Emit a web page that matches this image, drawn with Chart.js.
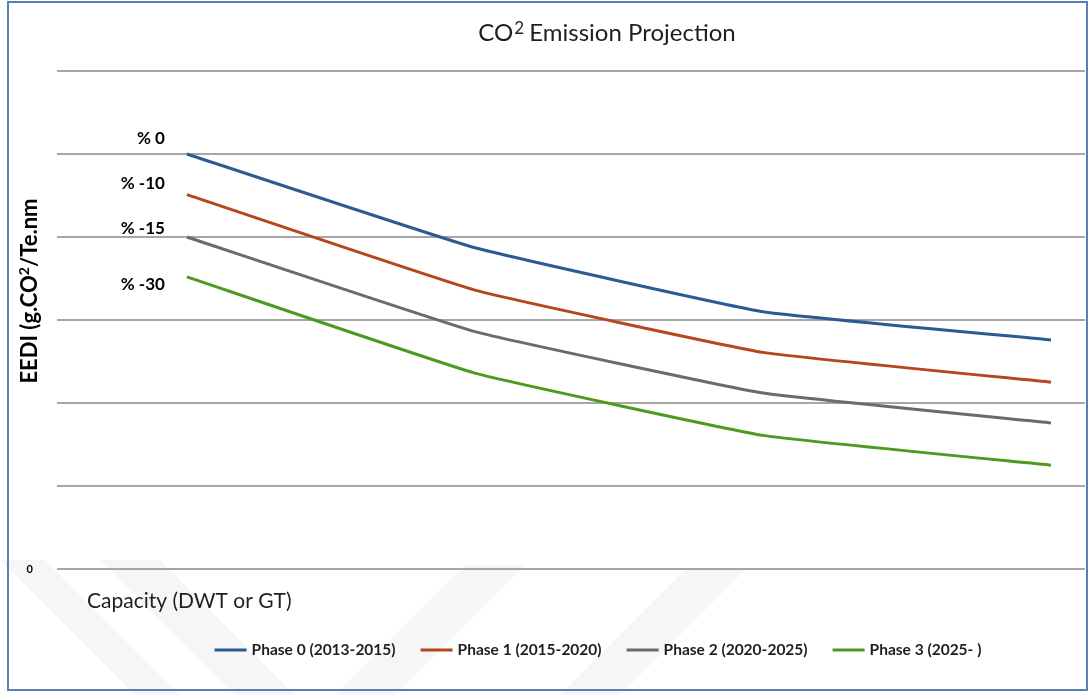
<!DOCTYPE html>
<html>
<head>
<meta charset="utf-8">
<script src="https://cdn.jsdelivr.net/npm/chart.js@4/dist/chart.umd.min.js"></script>
<style>
  html, body { margin: 0; padding: 0; background: #fff; }
  #wrap { position: relative; width: 1091px; height: 695px; }
  #frame { position: absolute; left: 7px; top: 1px; width: 1077px; height: 686px;
           border: 2px solid #5a7fb2; pointer-events: none; }
</style>
</head>
<body>
<div id="wrap">
  <canvas id="myChart" width="1091" height="695"></canvas>
  <div id="frame"></div>
</div>
<script>
// capacity steps along the x axis (no labels shown on the original)
var capacity = [1, 2, 3, 4];
var seriesNames = ['Phase 0 (2013-2015)', 'Phase 1 (2015-2020)', 'Phase 2 (2020-2025)', 'Phase 3 (2025- )'];
var phase0 = [5.00, 3.87, 3.10, 2.76];
var phase1 = [4.51, 3.36, 2.61, 2.25];
var phase2 = [4.00, 2.86, 2.12, 1.76];
var phase3 = [3.52, 2.36, 1.61, 1.25];
var startLabels = ['% 0', '% -10', '% -15', '% -30'];
var yTickLabels = ['0'];
var colors = ['#2b5c90', '#b6461c', '#6b6b6b', '#4e9a21'];

var FONT = 'Lato, "Open Sans", sans-serif';

function pts(vals) {
    return vals.map(function (v, i) { return { x: capacity[i], y: v }; });
}

var textPlugin = {
    id: 'texts',
    beforeDraw: function (chart) {
        // faint watermark bands
        var ctx = chart.ctx;
        ctx.save();
        ctx.fillStyle = 'rgba(0,0,0,0.035)';
        var bands = [
            [[0, 560], [45, 560], [180, 695], [135, 695]],
            [[100, 560], [160, 560], [295, 695], [235, 695]],
            [[335, 695], [395, 695], [525, 565], [465, 565]],
            [[560, 695], [620, 695], [745, 570], [685, 570]]
        ];
        bands.forEach(function (b) {
            ctx.beginPath();
            ctx.moveTo(b[0][0], b[0][1]);
            for (var i = 1; i < b.length; i++) ctx.lineTo(b[i][0], b[i][1]);
            ctx.closePath();
            ctx.fill();
        });
        ctx.restore();
    },
    afterDraw: function (chart) {
        var ctx = chart.ctx;
        ctx.save();
        ctx.fillStyle = '#1f1f1f';
        ctx.textBaseline = 'middle';

        // title with superscript 2
        var t1 = 'CO', t2 = '2', t3 = ' Emission Projection';
        ctx.font = '24px ' + FONT;
        var w1 = ctx.measureText(t1).width, w3 = ctx.measureText(t3).width;
        ctx.font = '17px ' + FONT;
        var w2 = ctx.measureText(t2).width;
        var tx = 607 - (w1 + w2 + w3) / 2;
        ctx.textAlign = 'left';
        ctx.font = '24px ' + FONT;
        ctx.fillText(t1, tx, 33);
        ctx.font = '17px ' + FONT;
        ctx.fillText(t2, tx + w1 + 1, 29);
        ctx.font = '24px ' + FONT;
        ctx.fillText(t3, tx + w1 + w2, 33);

        // y axis title
        ctx.save();
        ctx.translate(30, 291);
        ctx.rotate(-Math.PI / 2);
        ctx.fillStyle = '#000';
        ctx.font = 'bold 22px ' + FONT;
        var a = 'EEDI (g.CO', b = '2', c = '/Te.nm';
        var wa = ctx.measureText(a).width, wc = ctx.measureText(c).width;
        ctx.font = 'bold 14px ' + FONT;
        var wb = ctx.measureText(b).width;
        var sx = -(wa + wb + wc) / 2;
        ctx.font = 'bold 22px ' + FONT;
        ctx.fillText(a, sx, 0);
        ctx.font = 'bold 14px ' + FONT;
        ctx.fillText(b, sx + wa, -6);
        ctx.font = 'bold 22px ' + FONT;
        ctx.fillText(c, sx + wa + wb, 0);
        ctx.restore();

        // x axis title
        ctx.font = '21px ' + FONT;
        ctx.fillStyle = '#1f1f1f';
        ctx.fillText('Capacity (DWT or GT)', 87, 601);

        // start-point labels
        var offs = [-15, -11, -8, 8];
        ctx.font = 'bold 17px ' + FONT;
        ctx.fillStyle = '#000';
        ctx.textAlign = 'right';
        chart.data.datasets.forEach(function (ds, i) {
            var p = chart.getDatasetMeta(i).data[0];
            ctx.fillText(startLabels[i], p.x - 22, p.y + offs[i]);
        });

        // legend
        ctx.font = 'bold 15.5px ' + FONT;
        ctx.textAlign = 'left';
        var sample = 32, gap = 5, pad = 25, total = 0;
        var widths = seriesNames.map(function (n) { return ctx.measureText(n).width; });
        widths.forEach(function (w) { total += sample + gap + w; });
        total += pad * (seriesNames.length - 1);
        var lx = 598 - total / 2, ly = 650;
        seriesNames.forEach(function (n, i) {
            ctx.strokeStyle = colors[i];
            ctx.lineWidth = 3;
            ctx.beginPath();
            ctx.moveTo(lx, ly);
            ctx.lineTo(lx + sample, ly);
            ctx.stroke();
            ctx.fillStyle = '#1f1f1f';
            ctx.fillText(n, lx + sample + gap, ly);
            lx += sample + gap + widths[i] + pad;
        });
        ctx.restore();
    }
};

var ctx = document.getElementById('myChart').getContext('2d');
var chart = new Chart(ctx, {
    type: 'line',
    data: {
        datasets: [phase0, phase1, phase2, phase3].map(function (vals, i) {
            return {
                label: seriesNames[i],
                data: pts(vals),
                borderColor: colors[i],
                backgroundColor: colors[i],
                borderWidth: 3,
                pointRadius: 0,
                tension: 0.1,
                fill: false
            };
        })
    },
    options: {
        responsive: false,
        animation: false,
        layout: { padding: { top: 71, bottom: 126, left: 0, right: 6 } },
        plugins: {
            legend: { display: false },
            title: { display: false },
            tooltip: { enabled: false }
        },
        scales: {
            x: {
                type: 'linear',
                display: false,
                min: 0.549,
                max: 4.118
            },
            y: {
                min: 0,
                max: 6,
                afterFit: function (s) { s.width = 57; },
                border: { display: false },
                grid: { color: '#a6a6a6', lineWidth: 2, drawTicks: false },
                ticks: {
                    stepSize: 1,
                    padding: 24,
                    color: '#000',
                    font: { family: FONT, size: 11, weight: 'bold' },
                    callback: function (v) { return v === 0 ? yTickLabels[0] : ''; }
                }
            }
        }
    },
    plugins: [textPlugin]
});
</script>
</body>
</html>
